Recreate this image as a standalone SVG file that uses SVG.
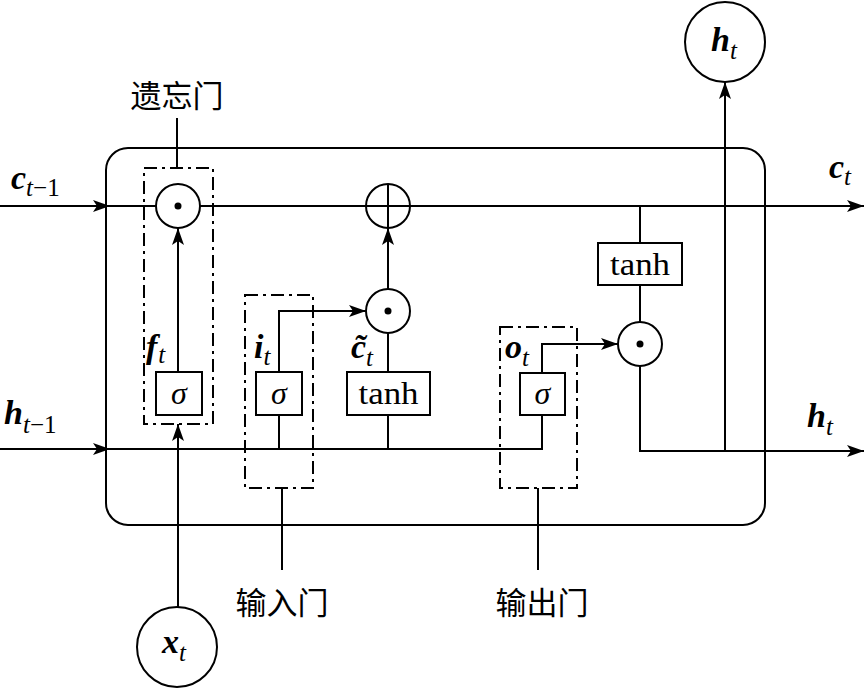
<svg xmlns="http://www.w3.org/2000/svg" width="866" height="691" viewBox="0 0 866 691">
<defs>
<marker id="arr" markerUnits="userSpaceOnUse" markerWidth="18" markerHeight="14" viewBox="0 0 18 14" refX="17" refY="7" orient="auto">
<path d="M0,1 L17,7 L0,13 L4,7 z" fill="#000"/>
</marker>
<style>
.ln{fill:none;stroke:#000;stroke-width:2}
.bx{fill:#fff;stroke:#000;stroke-width:2}
.dash{fill:none;stroke:#000;stroke-width:2;stroke-dasharray:13 5 3 5}
.op{fill:#fff;stroke:#000;stroke-width:2}
.m{font-family:"Liberation Serif","Times New Roman",serif;font-weight:bold;font-style:italic;font-size:34px}
.s{font-family:"Liberation Serif","Times New Roman",serif;font-style:italic;font-weight:normal;font-size:25px}
.n{font-family:"Liberation Serif","Times New Roman",serif;font-style:normal;font-weight:normal;font-size:25px}
.fn{font-family:"Liberation Serif","Times New Roman",serif;font-size:32px}
.sg{font-family:"Liberation Serif","Times New Roman",serif;font-style:italic;font-size:32px}
.cn{font-family:"Noto Sans CJK SC",sans-serif;font-size:31px}
</style>
</defs>
<rect width="866" height="691" fill="#fff"/>
<g id="cell">
<rect x="106" y="148" width="659" height="377" rx="22" ry="22" class="ln"/>
</g>
<g id="connectors">
<path class="ln" d="M0,206 H110" marker-end="url(#arr)"/>
<path class="ln" d="M110,206 H864" marker-end="url(#arr)"/>
<path class="ln" d="M0,449 H110" marker-end="url(#arr)"/>
<path class="ln" d="M110,449 H542 V415"/>
<path class="ln" d="M178,372 V228" marker-end="url(#arr)"/>
<path class="ln" d="M178,607 V424" marker-end="url(#arr)"/>
<path class="ln" d="M177,118 V168"/>
<path class="ln" d="M279,415 V449"/>
<path class="ln" d="M279,372 V311 H366" marker-end="url(#arr)"/>
<path class="ln" d="M388,449 V415"/>
<path class="ln" d="M388,372 V333"/>
<path class="ln" d="M388,289 V228" marker-end="url(#arr)"/>
<path class="ln" d="M542,373 V344 H618" marker-end="url(#arr)"/>
<path class="ln" d="M640,206 V243"/>
<path class="ln" d="M640,285 V322"/>
<path class="ln" d="M640,366 V451 H864" marker-end="url(#arr)"/>
<path class="ln" d="M725,451 V82" marker-end="url(#arr)"/>
<path class="ln" d="M282,488 V570"/>
<path class="ln" d="M538,488 V570"/>
</g>
<g id="forget-gate">
<rect x="144" y="168" width="69" height="256" class="dash"/>
<circle cx="178" cy="206" r="22" class="op"/>
<circle cx="178" cy="206" r="3.5" fill="#000"/>
<rect x="156" y="372" width="46" height="43" class="bx"/>
<text x="179" y="404" text-anchor="middle" class="sg">σ</text>
<text x="146" y="358" class="m">f<tspan class="s" dx="1" dy="5">t</tspan></text>
<text x="177" y="107" text-anchor="middle" class="cn">遗忘门</text>
</g>
<g id="input-gate">
<rect x="245" y="295" width="68" height="193" class="dash"/>
<rect x="256" y="372" width="46" height="43" class="bx"/>
<text x="279" y="404" text-anchor="middle" class="sg">σ</text>
<text x="254" y="358" class="m">i<tspan class="s" dx="0" dy="7">t</tspan></text>
<text x="282" y="614" text-anchor="middle" class="cn">输入门</text>
</g>
<g id="candidate">
<circle cx="388" cy="311" r="22" class="op"/>
<circle cx="388" cy="311" r="3.5" fill="#000"/>
<rect x="347" y="372" width="83" height="43" class="bx"/>
<text x="388.5" y="404" text-anchor="middle" class="fn" textLength="60" lengthAdjust="spacingAndGlyphs">tanh</text>
<text x="351" y="358" class="m">c&#x303;<tspan class="s" dy="8">t</tspan></text>
</g>
<g id="add">
<circle cx="388" cy="206" r="22" class="op"/>
<path class="ln" d="M366,206 H410 M388,184 V228"/>
</g>
<g id="output-gate">
<rect x="500" y="327" width="77" height="161" class="dash"/>
<rect x="520" y="373" width="45" height="42" class="bx"/>
<text x="542.5" y="404" text-anchor="middle" class="sg">σ</text>
<text x="505" y="358" class="m">o<tspan class="s" dy="8">t</tspan></text>
<text x="542" y="614" text-anchor="middle" class="cn">输出门</text>
</g>
<g id="output-tanh">
<rect x="598" y="243" width="84" height="42" class="bx"/>
<text x="640" y="275" text-anchor="middle" class="fn" textLength="60" lengthAdjust="spacingAndGlyphs">tanh</text>
<circle cx="640" cy="344" r="22" class="op"/>
<circle cx="640" cy="344" r="3.5" fill="#000"/>
</g>
<g id="labels">
<text x="11" y="189" class="m">c<tspan class="s" dy="7">t</tspan><tspan class="n">−1</tspan></text>
<text x="4" y="424" class="m">h<tspan class="s" dy="9">t</tspan><tspan class="n">−1</tspan></text>
<text x="829" y="178" class="m">c<tspan class="s" dy="7">t</tspan></text>
<text x="807" y="427" class="m">h<tspan class="s" dy="8">t</tspan></text>
</g>
<g id="ht-node">
<circle cx="725" cy="42" r="40" class="op"/>
<text x="711" y="51" class="m">h<tspan class="s" dy="8">t</tspan></text>
</g>
<g id="xt-node">
<circle cx="177" cy="647" r="40" class="op"/>
<text x="162" y="653" class="m">x<tspan class="s" dy="8">t</tspan></text>
</g>
</svg>
